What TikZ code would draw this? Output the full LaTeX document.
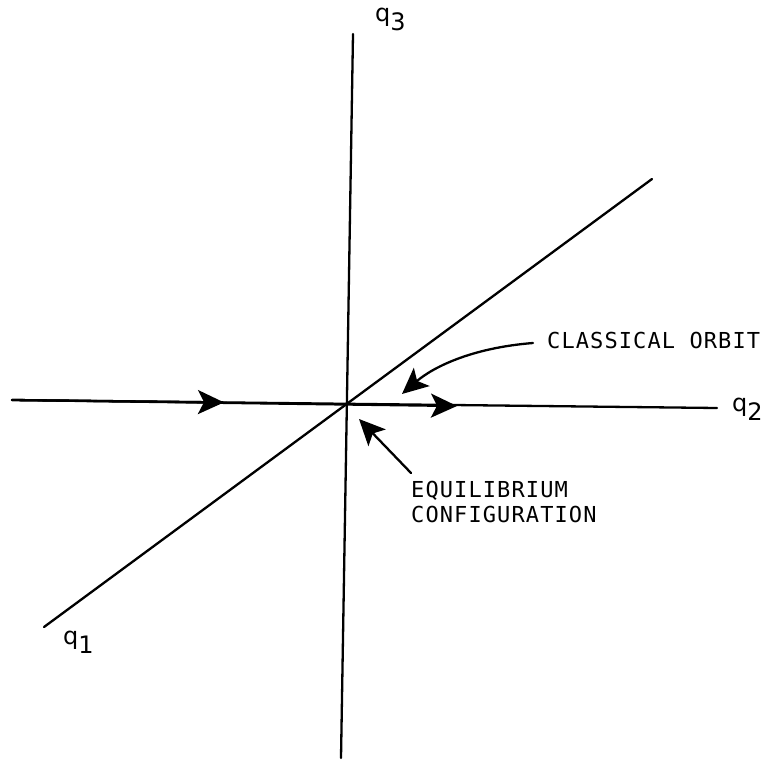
\documentclass[tikz,border=0pt]{standalone}
\usepackage{fontspec}
\newfontfamily\letfont[LetterSpace=5]{DejaVu Sans Mono}
\newfontfamily\qfont{DejaVu Sans}
\usetikzlibrary{arrows.meta}
\begin{document}
\begin{tikzpicture}[x=1pt,y=-1pt,
  axis/.style={line width=2.3pt, line cap=round},
  tip/.style={-{Stealth[length=26pt,width=24pt,inset=6pt]}},
  lettering/.style={font=\letfont\fontsize{22}{25}\selectfont, inner sep=0pt, align=left},
  qlabel/.style={font=\qfont\fontsize{24}{24}\selectfont, inner sep=0pt}]
\useasboundingbox (0,0) rectangle (771,760);
% axes
\coordinate (q3top) at (353,34);
\coordinate (q3bot) at (341,758);
\coordinate (hleft) at (12,400);
\coordinate (hright) at (717,408);
\coordinate (dlow) at (44,627);
\coordinate (dhigh) at (652,179);
\coordinate (arrA) at (224,402.4);
\coordinate (arrB) at (457,406);
\draw[axis] (q3top) -- (q3bot);
\draw[axis] (hleft) -- (hright);
\draw[axis] (dlow) -- (dhigh);
\draw[axis, tip] (hleft) -- (arrA);
\draw[axis, tip] (hleft) -- (arrB);
% axis labels
\node[qlabel, anchor=west] (q3) at (375,19) {q\raisebox{-9pt}{3}};
\node[qlabel, anchor=west] (q2) at (732,409) {q\raisebox{-9pt}{2}};
\node[qlabel, anchor=west] (q1) at (63,642) {q\raisebox{-9pt}{1}};
% annotations
\node[lettering, anchor=west] (orbit) at (547,340) {CLASSICAL ORBIT};
\node[lettering, anchor=north west] (equil) at (411,481) {EQUILIBRIUM\\CONFIGURATION};
\coordinate (orbitstart) at (533,343);
\coordinate (orbittip) at (402,394);
\coordinate (eqstart) at (411,473);
\coordinate (eqtip) at (359,419);
\draw[axis, tip] (orbitstart) .. controls (470,348) and (432,368) .. (orbittip);
\draw[axis, tip] (eqstart) -- (eqtip);
\end{tikzpicture}
\end{document}
